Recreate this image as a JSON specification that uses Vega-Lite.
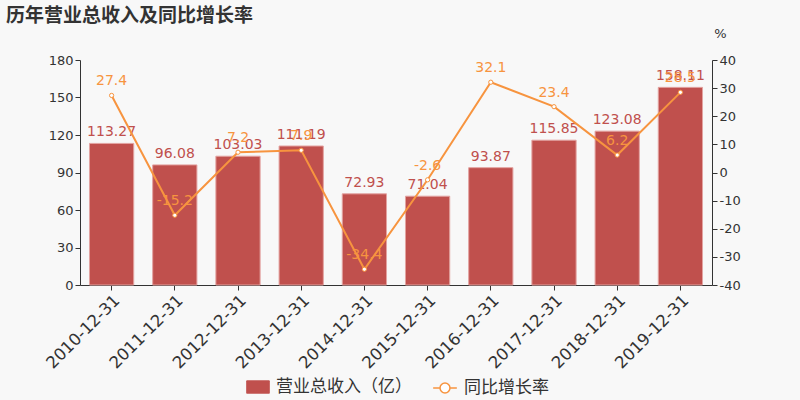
{
  "$schema": "https://vega.github.io/schema/vega-lite/v6.json",
  "autosize": "none",
  "width": 632,
  "height": 225,
  "padding": {"left": 80, "top": 60, "right": 88, "bottom": 115},
  "background": "#f8f8f8",
  "title": {
    "text": "历年营业总收入及同比增长率",
    "anchor": "start",
    "frame": "group",
    "fontSize": 19,
    "fontWeight": "bold",
    "color": "#333333",
    "font": "Noto Sans CJK SC",
    "dx": -74,
    "dy": 3
  },
  "config": {
    "locale": {"number": {"decimal": ".", "thousands": ",", "grouping": [3], "currency": ["", ""], "minus": "-"}},
    "view": {"stroke": null},
    "font": "DejaVu Sans",
    "axis": {"labelColor": "#333333", "domainColor": "#333333", "tickColor": "#333333", "grid": false, "labelFontSize": 13, "tickSize": 5, "labelOverlap": false}
  },
  "data": {
    "values": [
      {"date": "2010-12-31", "revenue": 113.27, "growth": 27.4},
      {"date": "2011-12-31", "revenue": 96.08, "growth": -15.2},
      {"date": "2012-12-31", "revenue": 103.03, "growth": 7.2},
      {"date": "2013-12-31", "revenue": 111.19, "growth": 7.9},
      {"date": "2014-12-31", "revenue": 72.93, "growth": -34.4},
      {"date": "2015-12-31", "revenue": 71.04, "growth": -2.6},
      {"date": "2016-12-31", "revenue": 93.87, "growth": 32.1},
      {"date": "2017-12-31", "revenue": 115.85, "growth": 23.4},
      {"date": "2018-12-31", "revenue": 123.08, "growth": 6.2},
      {"date": "2019-12-31", "revenue": 158.11, "growth": 28.5}
    ]
  },
  "encoding": {
    "x": {
      "field": "date", "type": "nominal", "sort": null,
      "scale": {"paddingInner": 0.3, "paddingOuter": 0.15},
      "axis": {"title": null, "labelAngle": -45, "labelFontSize": 16.5, "labelAlign": "right", "labelBaseline": "top", "labelPadding": 2}
    }
  },
  "layer": [
    {
      "encoding": {
        "y": {"field": "revenue", "type": "quantitative", "scale": {"domain": [0, 180]},
          "axis": {"title": null, "values": [0, 30, 60, 90, 120, 150, 180], "tickCount": 7}}
      },
      "layer": [
        {
          "mark": {"type": "bar", "color": "#c0504d", "stroke": "#e3a3a1", "strokeWidth": 1},
          "encoding": {
            "fill": {"datum": "营业总收入（亿）", "type": "nominal",
              "scale": {"range": ["#c0504d"]},
              "legend": {"orient": "none", "legendX": 166, "legendY": 315, "title": null, "labelFontSize": 17, "labelColor": "#333333", "labelFont": "Noto Sans CJK SC",
                "symbolType": "M-0.9,-0.58 L0.9,-0.58 A0.1,0.1 0 0,1 1,-0.48 L1,0.48 A0.1,0.1 0 0,1 0.9,0.58 L-0.9,0.58 A0.1,0.1 0 0,1 -1,0.48 L-1,-0.48 A0.1,0.1 0 0,1 -0.9,-0.58 Z", "symbolSize": 560, "symbolStrokeWidth": 0, "labelOffset": 6}}
          }
        },
        {
          "mark": {"type": "text", "color": "#c0504d", "baseline": "bottom", "dy": -4, "fontSize": 14},
          "encoding": {
            "text": {"field": "revenue", "type": "quantitative", "format": ".2f"}
          }
        }
      ]
    },
    {
      "encoding": {
        "y": {"field": "growth", "type": "quantitative", "scale": {"domain": [-40, 40]},
          "axis": {"orient": "right", "title": "%", "titleAngle": 0, "titleX": 8, "titleY": -20, "titleAlign": "center", "titleFontSize": 13, "titleFontWeight": "normal", "titleColor": "#333333",
            "values": [-40, -30, -20, -10, 0, 10, 20, 30, 40], "tickCount": 9}}
      },
      "layer": [
        {
          "mark": {"type": "line", "color": "#f7943f", "strokeWidth": 2, "point": {"filled": true, "fill": "#ffffff", "stroke": "#f7943f", "strokeWidth": 1, "size": 18}},
          "encoding": {
            "stroke": {"datum": "同比增长率", "type": "nominal",
              "scale": {"range": ["#f7943f"]},
              "legend": {"orient": "none", "legendX": 352, "legendY": 315, "title": null, "labelFontSize": 17, "labelColor": "#333333", "labelFont": "Noto Sans CJK SC",
                "symbolType": "M-1,0 L-0.42,0 M0.42,0 L1,0 M-0.42,0 A0.42,0.42 0 1,1 0.42,0 A0.42,0.42 0 1,1 -0.42,0", "symbolSize": 560, "symbolStrokeWidth": 1.5, "symbolFillColor": "#ffffff", "labelOffset": 6}}
          }
        },
        {
          "mark": {"type": "text", "color": "#f7943f", "baseline": "bottom", "dy": -7, "fontSize": 14},
          "encoding": {
            "text": {"field": "growth", "type": "quantitative", "format": ".1f"}
          }
        }
      ]
    }
  ],
  "resolve": {"scale": {"y": "independent", "fill": "independent", "stroke": "independent"}}
}
